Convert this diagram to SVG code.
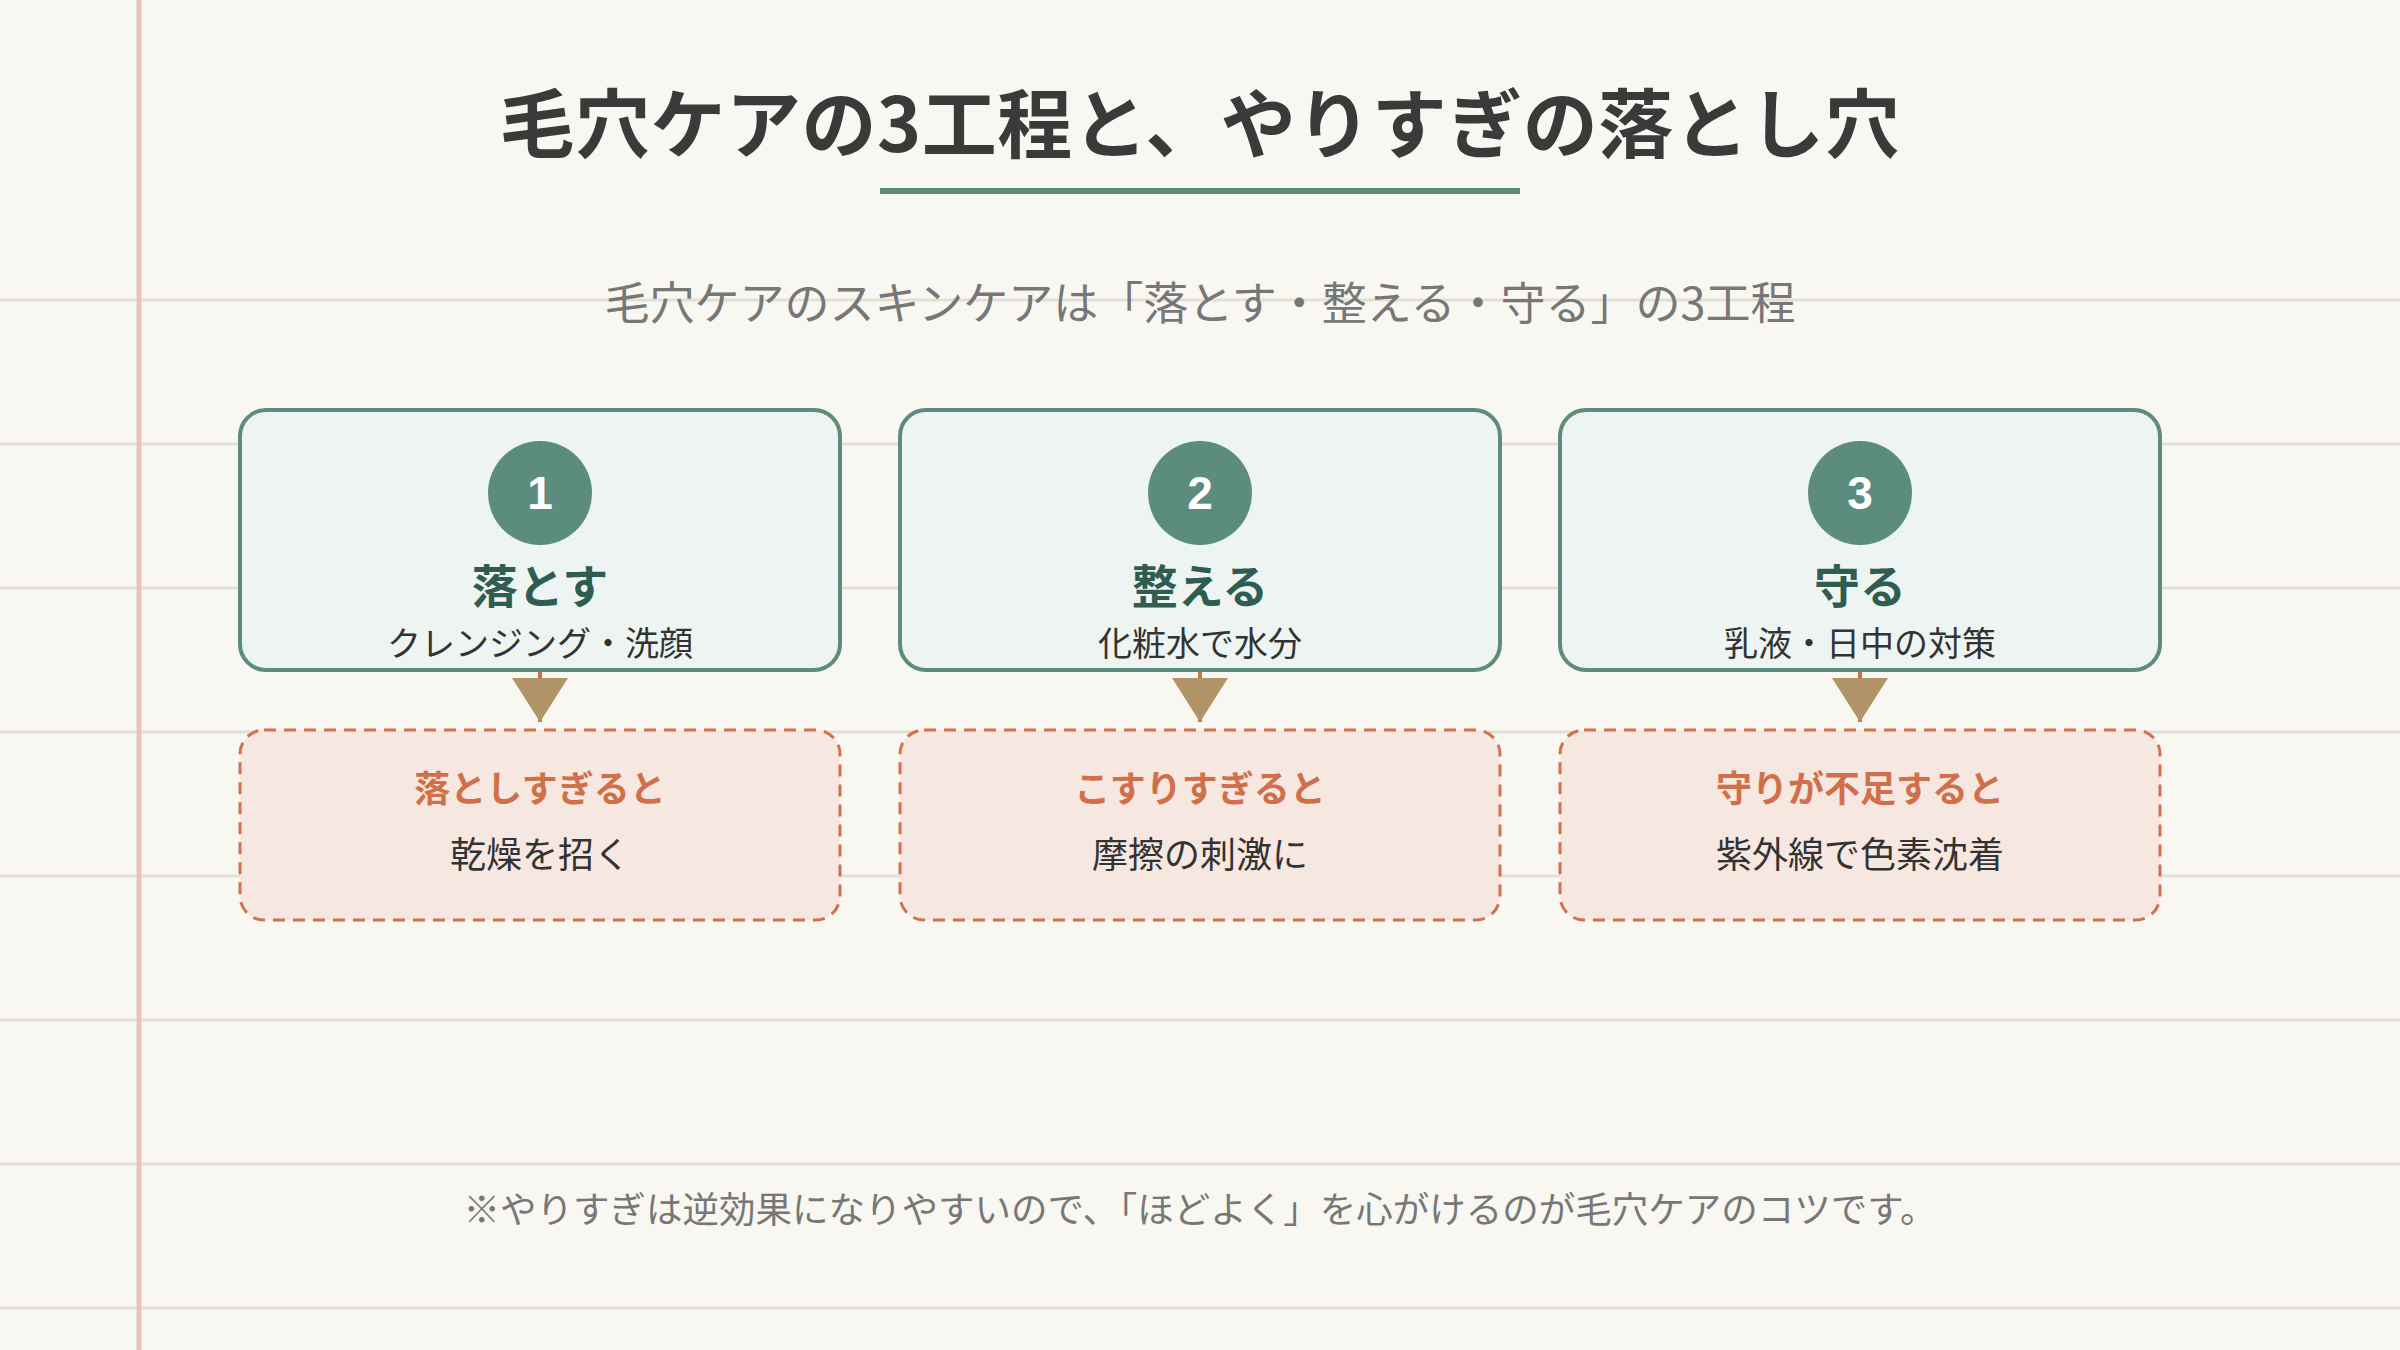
<svg xmlns="http://www.w3.org/2000/svg" width="2400" height="1350" viewBox="0 0 2400 1350">
<defs>
<style>
text{font-family:"Noto Sans CJK JP","Noto Sans",sans-serif;text-anchor:middle;dominant-baseline:central}
.rule{stroke:#e4dfd5;stroke-width:3}
.card{fill:#eef4f1;stroke:#5b8c7e;stroke-width:4}
.warn{fill:#f6e7e0;stroke:#d4714d;stroke-width:3;stroke-dasharray:12 8}
.num{fill:#5b8c7e}
.numt{fill:#ffffff;font-family:"Liberation Sans",Arial,sans-serif;font-weight:700;font-size:46px}
.ct{fill:#2f5d52;font-weight:700;font-size:46px}
.cs{fill:#333333;font-size:34px}
.wt{fill:#d0704a;font-weight:700;font-size:36px}
.wd{fill:#333333;font-size:36px}
.conn{stroke:#d0704a;stroke-width:4;fill:none}
</style>
<marker id="ah" viewBox="0 0 44 56" refX="44" refY="28" markerWidth="44" markerHeight="56" markerUnits="userSpaceOnUse" orient="auto">
<path d="M0,0 L44,28 L0,56 z" fill="#b09468"/>
</marker>
</defs>
<rect x="0" y="0" width="2400" height="1350" fill="#f9f7f2"/>
<g id="paper">
<line class="rule" x1="0" y1="300" x2="2400" y2="300"/>
<line class="rule" x1="0" y1="444" x2="2400" y2="444"/>
<line class="rule" x1="0" y1="588" x2="2400" y2="588"/>
<line class="rule" x1="0" y1="732" x2="2400" y2="732"/>
<line class="rule" x1="0" y1="876" x2="2400" y2="876"/>
<line class="rule" x1="0" y1="1020" x2="2400" y2="1020"/>
<line class="rule" x1="0" y1="1164" x2="2400" y2="1164"/>
<line class="rule" x1="0" y1="1308" x2="2400" y2="1308"/>
<line x1="139" y1="0" x2="139" y2="1350" stroke="#e6c3b8" stroke-width="5"/>
</g>
<g id="header">
<text x="1200" y="119" font-size="75" font-weight="700" fill="#3a3a3a" letter-spacing="0.5">毛穴ケアの3工程と、やりすぎの落とし穴</text>
<rect x="880" y="188" width="640" height="6" fill="#5b8c7e"/>
<text x="1200" y="300" font-size="45" fill="#777777">毛穴ケアのスキンケアは「落とす・整える・守る」の3工程</text>
</g>
<g id="connectors">
<line class="conn" x1="540" y1="670" x2="540" y2="722" marker-end="url(#ah)"/>
<line class="conn" x1="1200" y1="670" x2="1200" y2="722" marker-end="url(#ah)"/>
<line class="conn" x1="1860" y1="670" x2="1860" y2="722" marker-end="url(#ah)"/>
</g>
<g id="step1">
<rect class="card" x="240" y="410" width="600" height="260" rx="26"/>
<circle class="num" cx="540" cy="493" r="52"/>
<text class="numt" x="540" y="493">1</text>
<text class="ct" x="540" y="583">落とす</text>
<text class="cs" x="540" y="641">クレンジング・洗顔</text>
</g>
<g id="step2">
<rect class="card" x="900" y="410" width="600" height="260" rx="26"/>
<circle class="num" cx="1200" cy="493" r="52"/>
<text class="numt" x="1200" y="493">2</text>
<text class="ct" x="1200" y="583">整える</text>
<text class="cs" x="1200" y="641">化粧水で水分</text>
</g>
<g id="step3">
<rect class="card" x="1560" y="410" width="600" height="260" rx="26"/>
<circle class="num" cx="1860" cy="493" r="52"/>
<text class="numt" x="1860" y="493">3</text>
<text class="ct" x="1860" y="583">守る</text>
<text class="cs" x="1860" y="641">乳液・日中の対策</text>
</g>
<g id="warn1">
<rect class="warn" x="240" y="730" width="600" height="190" rx="24"/>
<text class="wt" x="540" y="786">落としすぎると</text>
<text class="wd" x="540" y="852">乾燥を招く</text>
</g>
<g id="warn2">
<rect class="warn" x="900" y="730" width="600" height="190" rx="24"/>
<text class="wt" x="1200" y="786">こすりすぎると</text>
<text class="wd" x="1200" y="852">摩擦の刺激に</text>
</g>
<g id="warn3">
<rect class="warn" x="1560" y="730" width="600" height="190" rx="24"/>
<text class="wt" x="1860" y="786">守りが不足すると</text>
<text class="wd" x="1860" y="852">紫外線で色素沈着</text>
</g>
<g id="footnote">
<text x="1200" y="1207" font-size="36.5" fill="#777777">※やりすぎは逆効果になりやすいので、「ほどよく」を心がけるのが毛穴ケアのコツです。</text>
</g>
</svg>
